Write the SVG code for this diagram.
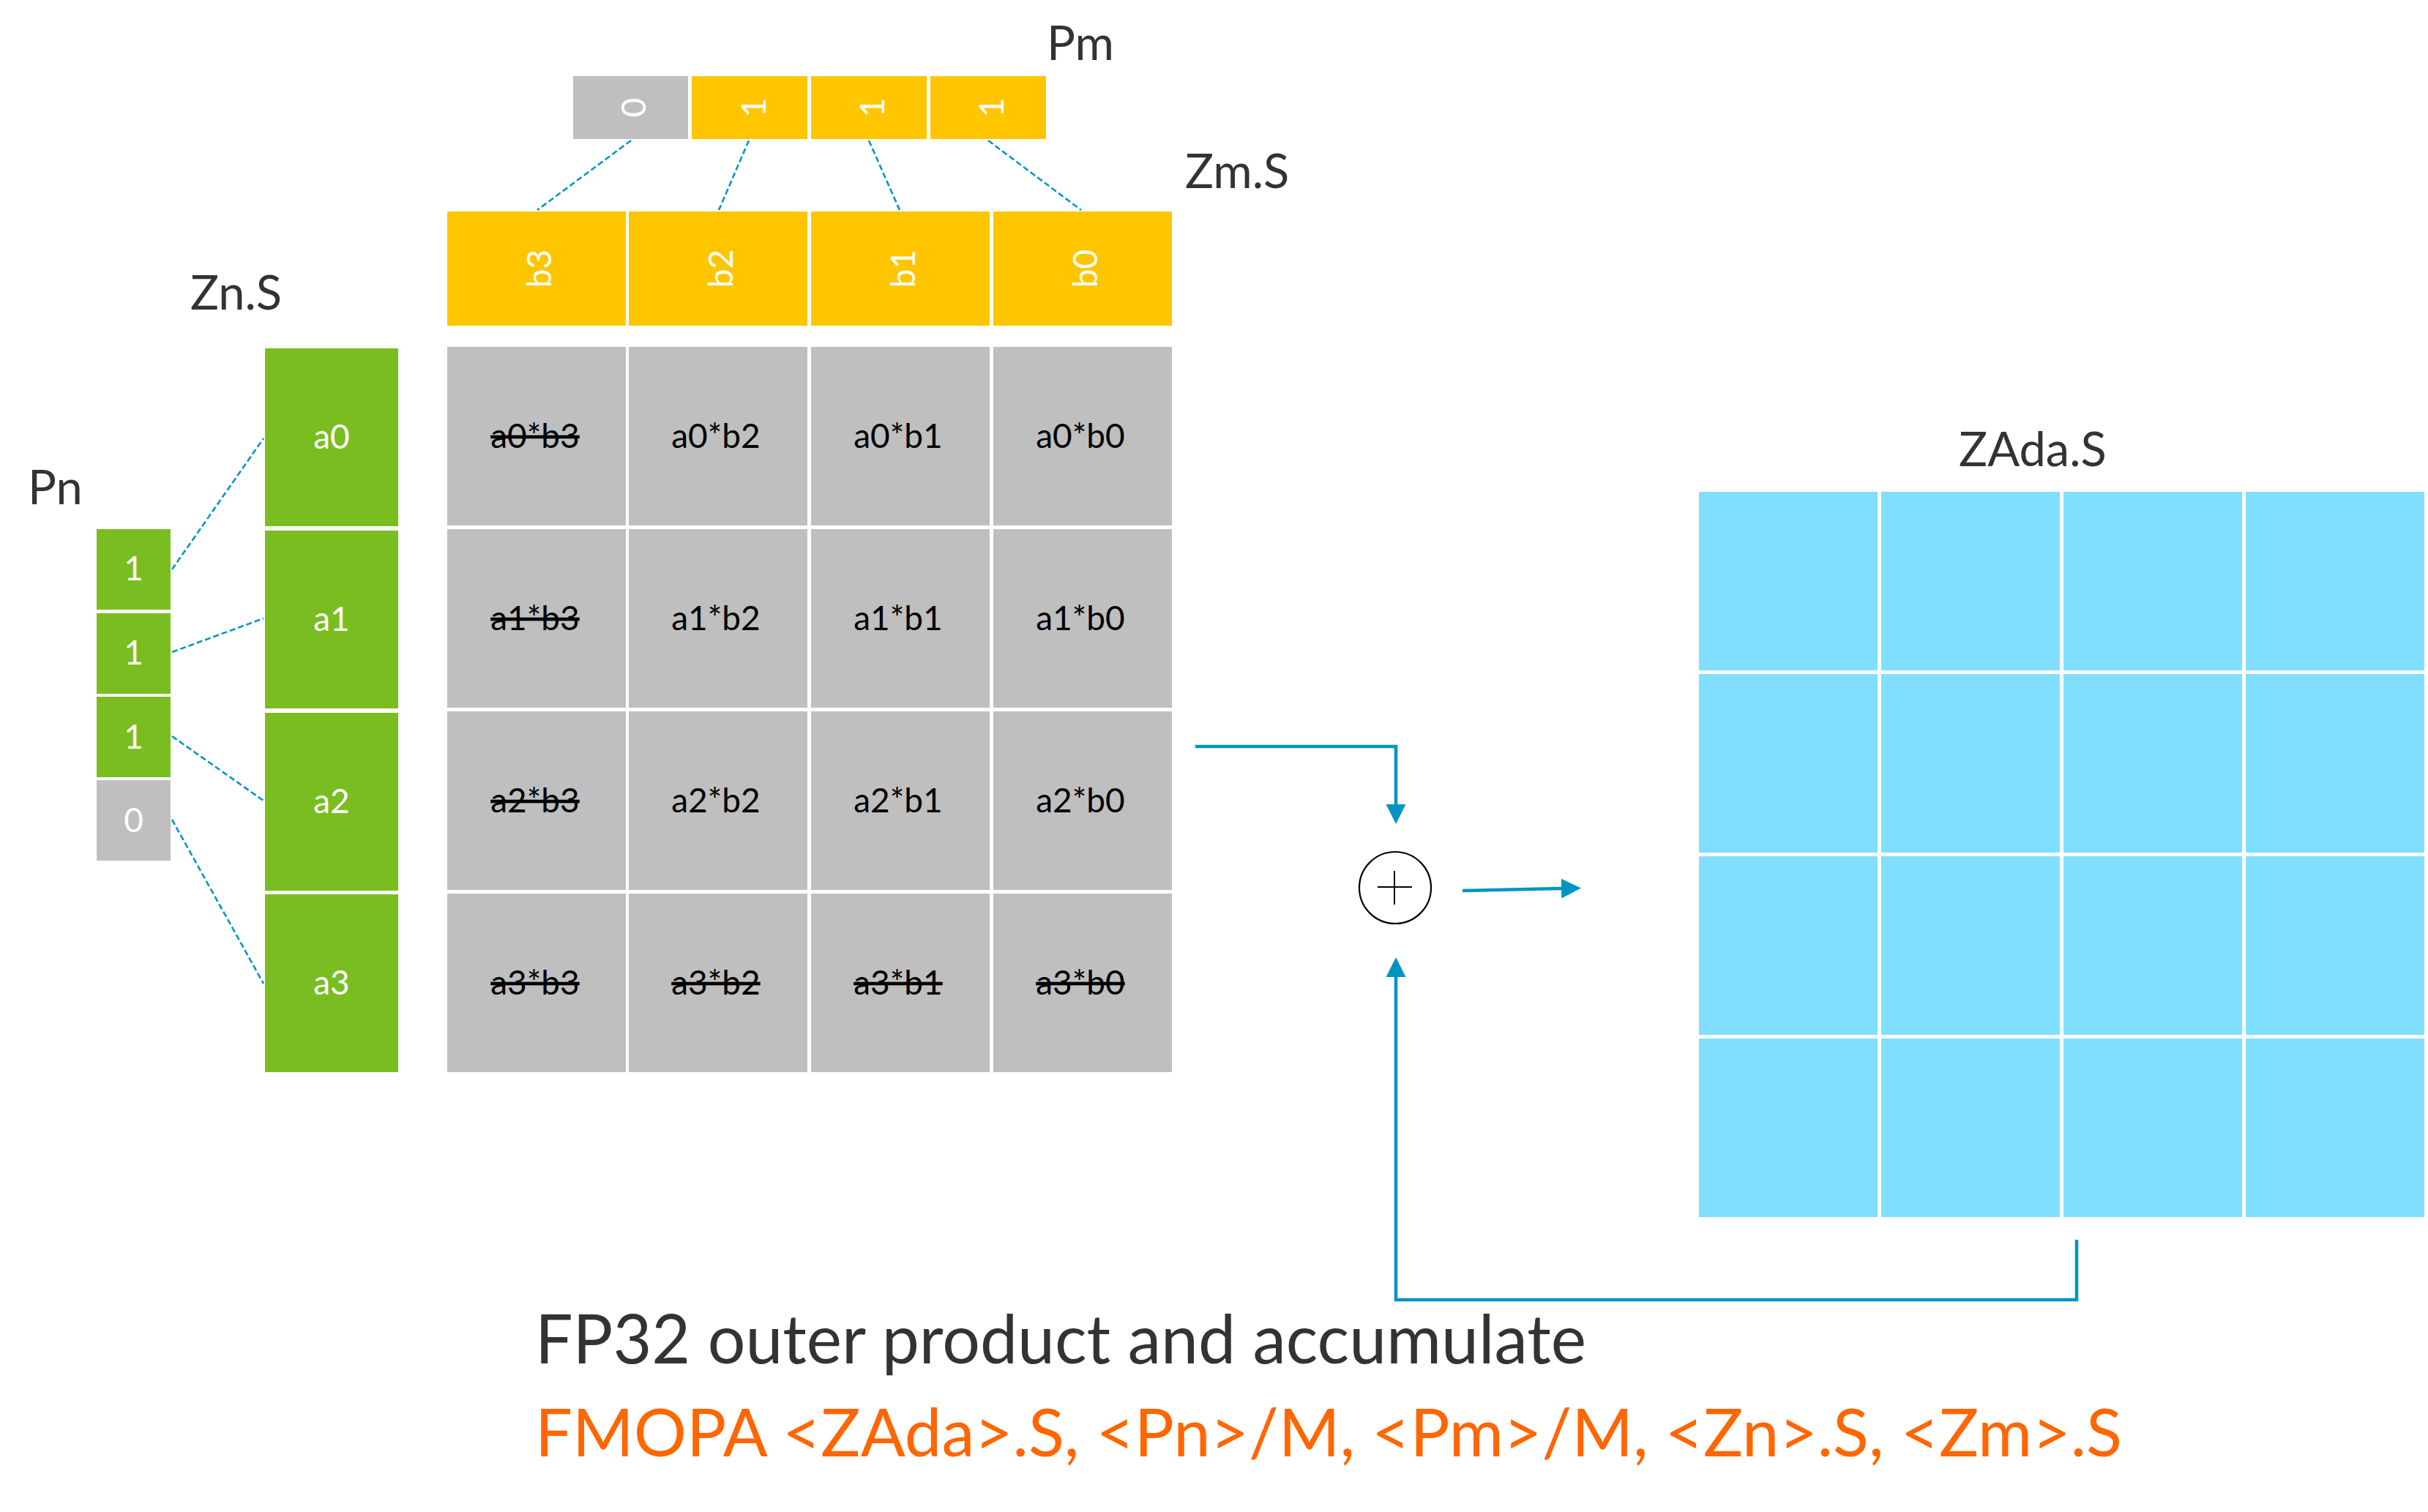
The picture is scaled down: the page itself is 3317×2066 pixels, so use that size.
<svg xmlns="http://www.w3.org/2000/svg" width="3317" height="2066" viewBox="0 0 3317 2066">
<style>
text{font-family:Lato,"Liberation Sans",sans-serif}
.y{fill:#FFC600}
.g{fill:#BFBFBF}
.gr{fill:#7ABD21}
.b{fill:#80DFFF}
.w{fill:#FFFFFF;font-size:46px;text-anchor:middle}
.k{fill:#000000;font-size:46px;text-anchor:middle}
.s{text-decoration:line-through}
.lbl{fill:#333333;font-size:65px}
.dash{stroke:#0096C4;stroke-width:2.6;stroke-dasharray:8 4;fill:none}
.arr{stroke:#0095C0;stroke-width:4.5;fill:none}
</style>
<defs>
<marker id="ah" markerUnits="userSpaceOnUse" markerWidth="27" markerHeight="27" refX="0" refY="13.5" orient="auto" viewBox="0 0 27 27">
<path d="M0,0 L27,13.5 L0,27 z" fill="#0095C0"/>
</marker>
</defs>
<rect width="3317" height="2066" fill="#FFFFFF"/>

<!-- labels -->
<text class="lbl" x="1430" y="82">Pm</text>
<text class="lbl" x="1619" y="257">Zm.S</text>
<text class="lbl" x="260" y="423">Zn.S</text>
<text class="lbl" x="38" y="689">Pn</text>
<text class="lbl" x="2676" y="637">ZAda.S</text>

<!-- Pm -->
<g id="pm0"><rect class="g" x="783" y="104" width="157" height="86"/><text class="w" transform="translate(865,147) rotate(-90)" y="17">0</text></g>
<g id="pm1"><rect class="y" x="945" y="104" width="158" height="86"/><text class="w" transform="translate(1029,147) rotate(-90)" y="17">1</text></g>
<g id="pm2"><rect class="y" x="1108" y="104" width="158" height="86"/><text class="w" transform="translate(1191,147) rotate(-90)" y="17">1</text></g>
<g id="pm3"><rect class="y" x="1271" y="104" width="158" height="86"/><text class="w" transform="translate(1354,147) rotate(-90)" y="17">1</text></g>

<!-- Zm -->
<g id="zm3"><rect class="y" x="611" y="289" width="244" height="156"/><text class="w" transform="translate(736,367) rotate(-90)" y="17">b3</text></g>
<g id="zm2"><rect class="y" x="859" y="289" width="244" height="156"/><text class="w" transform="translate(984,367) rotate(-90)" y="17">b2</text></g>
<g id="zm1"><rect class="y" x="1108" y="289" width="244" height="156"/><text class="w" transform="translate(1233,367) rotate(-90)" y="17">b1</text></g>
<g id="zm0"><rect class="y" x="1357" y="289" width="244" height="156"/><text class="w" transform="translate(1482,367) rotate(-90)" y="17">b0</text></g>

<!-- Pn -->
<g id="pn0"><rect class="gr" x="132" y="723" width="101" height="110"/><text class="w" x="182.5" y="793">1</text></g>
<g id="pn1"><rect class="gr" x="132" y="838" width="101" height="110"/><text class="w" x="182.5" y="908">1</text></g>
<g id="pn2"><rect class="gr" x="132" y="952" width="101" height="110"/><text class="w" x="182.5" y="1023">1</text></g>
<g id="pn3"><rect class="g" x="132" y="1066" width="101" height="110"/><text class="w" x="182.5" y="1137">0</text></g>

<!-- Zn -->
<g id="zn0"><rect class="gr" x="362" y="476" width="182" height="243"/><text class="w" x="453" y="613">a0</text></g>
<g id="zn1"><rect class="gr" x="362" y="725" width="182" height="243"/><text class="w" x="453" y="862">a1</text></g>
<g id="zn2"><rect class="gr" x="362" y="974" width="182" height="243"/><text class="w" x="453" y="1111">a2</text></g>
<g id="zn3"><rect class="gr" x="362" y="1222" width="182" height="243"/><text class="w" x="453" y="1359">a3</text></g>

<!-- product grid -->
<g id="p00"><rect class="g" x="611" y="474" width="244" height="244"/><text class="k s" x="731" y="612">a0*b3</text></g>
<g id="p01"><rect class="g" x="859" y="474" width="244" height="244"/><text class="k" x="978" y="612">a0*b2</text></g>
<g id="p02"><rect class="g" x="1108" y="474" width="244" height="244"/><text class="k" x="1227" y="612">a0*b1</text></g>
<g id="p03"><rect class="g" x="1357" y="474" width="244" height="244"/><text class="k" x="1476" y="612">a0*b0</text></g>

<g id="p10"><rect class="g" x="611" y="723" width="244" height="244"/><text class="k s" x="731" y="861">a1*b3</text></g>
<g id="p11"><rect class="g" x="859" y="723" width="244" height="244"/><text class="k" x="978" y="861">a1*b2</text></g>
<g id="p12"><rect class="g" x="1108" y="723" width="244" height="244"/><text class="k" x="1227" y="861">a1*b1</text></g>
<g id="p13"><rect class="g" x="1357" y="723" width="244" height="244"/><text class="k" x="1476" y="861">a1*b0</text></g>

<g id="p20"><rect class="g" x="611" y="972" width="244" height="244"/><text class="k s" x="731" y="1110">a2*b3</text></g>
<g id="p21"><rect class="g" x="859" y="972" width="244" height="244"/><text class="k" x="978" y="1110">a2*b2</text></g>
<g id="p22"><rect class="g" x="1108" y="972" width="244" height="244"/><text class="k" x="1227" y="1110">a2*b1</text></g>
<g id="p23"><rect class="g" x="1357" y="972" width="244" height="244"/><text class="k" x="1476" y="1110">a2*b0</text></g>

<g id="p30"><rect class="g" x="611" y="1221" width="244" height="244"/><text class="k s" x="731" y="1359">a3*b3</text></g>
<g id="p31"><rect class="g" x="859" y="1221" width="244" height="244"/><text class="k s" x="978" y="1359">a3*b2</text></g>
<g id="p32"><rect class="g" x="1108" y="1221" width="244" height="244"/><text class="k s" x="1227" y="1359">a3*b1</text></g>
<g id="p33"><rect class="g" x="1357" y="1221" width="244" height="244"/><text class="k s" x="1476" y="1359">a3*b0</text></g>

<!-- ZAda -->
<g id="zada">
<rect class="b" x="2321" y="672" width="244" height="244"/><rect class="b" x="2570" y="672" width="244" height="244"/><rect class="b" x="2819" y="672" width="244" height="244"/><rect class="b" x="3068" y="672" width="244" height="244"/>
<rect class="b" x="2321" y="921" width="244" height="244"/><rect class="b" x="2570" y="921" width="244" height="244"/><rect class="b" x="2819" y="921" width="244" height="244"/><rect class="b" x="3068" y="921" width="244" height="244"/>
<rect class="b" x="2321" y="1170" width="244" height="244"/><rect class="b" x="2570" y="1170" width="244" height="244"/><rect class="b" x="2819" y="1170" width="244" height="244"/><rect class="b" x="3068" y="1170" width="244" height="244"/>
<rect class="b" x="2321" y="1419" width="244" height="244"/><rect class="b" x="2570" y="1419" width="244" height="244"/><rect class="b" x="2819" y="1419" width="244" height="244"/><rect class="b" x="3068" y="1419" width="244" height="244"/>
</g>

<!-- adder -->
<g id="adder">
<circle cx="1906" cy="1213" r="49" fill="#FFFFFF" stroke="#000000" stroke-width="2.2"/>
<path d="M1882,1212 H1929 M1905,1190 V1236" stroke="#000000" stroke-width="2"/>
</g>

<!-- connectors -->
<g id="connectors">
<path class="dash" d="M862,192 L734,287"/>
<path class="dash" d="M1023,192 L982,287"/>
<path class="dash" d="M1187,192 L1229,287"/>
<path class="dash" d="M1350,192 L1477,287"/>
<path class="dash" d="M235,778 L360,599"/>
<path class="dash" d="M235,891 L360,845"/>
<path class="dash" d="M235,1006 L360,1094"/>
<path class="dash" d="M235,1120 L360,1344"/>
<path class="arr" d="M1633,1020 H1907 V1099" marker-end="url(#ah)"/>
<path class="arr" d="M1998,1217 L2133,1214" marker-end="url(#ah)"/>
<path class="arr" d="M2837,1694 V1776 H1907 V1335" marker-end="url(#ah)"/>
</g>

<text x="731" y="1863" fill="#333333" font-size="93" textLength="1436" lengthAdjust="spacingAndGlyphs">FP32 outer product and accumulate</text>
<text x="731" y="1990" fill="#FF6600" font-size="92" textLength="2168" lengthAdjust="spacingAndGlyphs">FMOPA &lt;ZAda&gt;.S, &lt;Pn&gt;/M, &lt;Pm&gt;/M, &lt;Zn&gt;.S, &lt;Zm&gt;.S</text>
</svg>
